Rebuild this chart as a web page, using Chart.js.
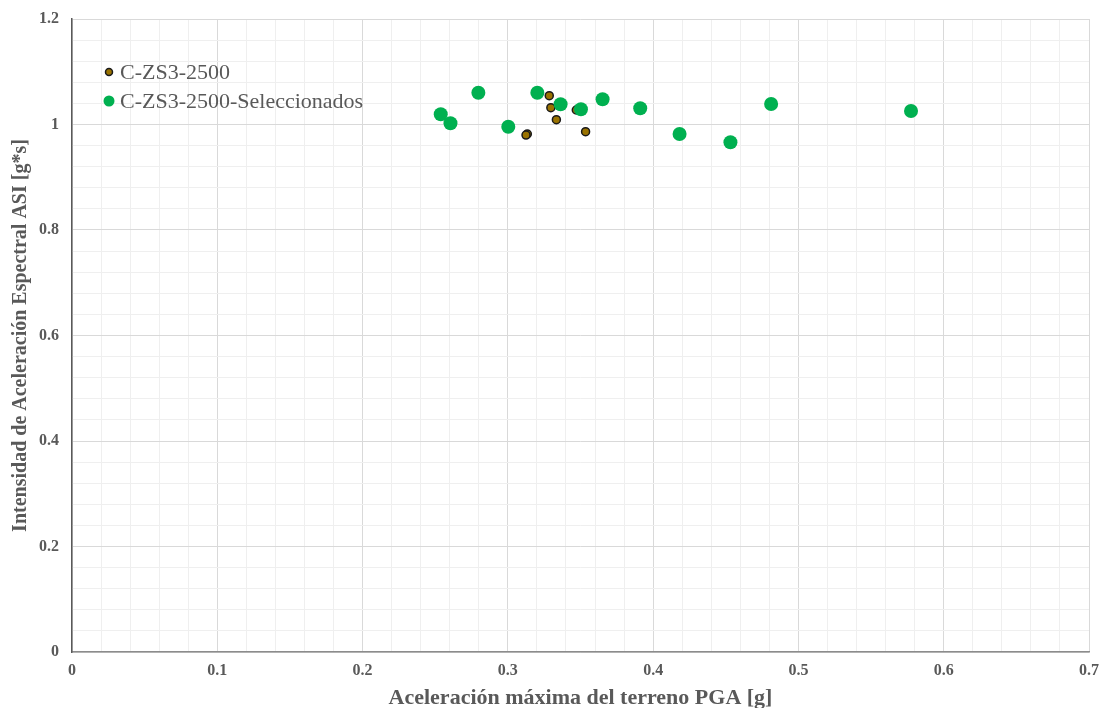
<!DOCTYPE html>
<html>
<head>
<meta charset="utf-8">
<script src="https://cdn.jsdelivr.net/npm/chart.js@4.4.1/dist/chart.umd.min.js"></script>
<style>
  html, body { margin: 0; padding: 0; background: #fff; }
  #wrap { width: 1101px; height: 708px; position: relative; }
</style>
</head>
<body>
<div id="wrap"><canvas id="asiChart"></canvas></div>
<script>
// PGA [g] vs ASI [g*s]
var allPga = [0.3285, 0.3296, 0.3334, 0.3134, 0.3125, 0.3471, 0.3535];
var allAsi = [1.0546, 1.0318, 1.0091, 0.9820, 0.9800, 1.0275, 0.9863];

var selPga = [0.2538, 0.2605, 0.2797, 0.3003, 0.3203, 0.3363, 0.3503, 0.3652, 0.3911, 0.4182, 0.4532, 0.4812, 0.5775];
var selAsi = [1.0194, 1.0023, 1.0603, 0.9958, 1.0603, 1.0383, 1.0288, 1.0478, 1.0307, 0.9820, 0.9663, 1.0389, 1.0256];

var seriesNames = ['C-ZS3-2500', 'C-ZS3-2500-Seleccionados'];

function toPoints(xs, ys) {
  return xs.map(function(x, i) { return { x: x, y: ys[i] }; });
}

var textGrey = '#595959';
var serif = "'Liberation Serif', 'Times New Roman', serif";

// legend drawn inside the plot area, top-left
var insideLegend = {
  id: 'insideLegend',
  afterDraw: function(chart) {
    var ctx = chart.ctx;
    var a = chart.chartArea;
    var rows = [a.top + 53, a.top + 82];
    ctx.save();
    ctx.font = '22px ' + serif;
    ctx.textBaseline = 'middle';
    chart.data.datasets.forEach(function(ds, i) {
      var y = rows[i];
      var x = a.left + 37;
      ctx.beginPath();
      ctx.arc(x, y, i === 0 ? 3.5 : 5.5, 0, Math.PI * 2);
      ctx.fillStyle = ds.backgroundColor;
      ctx.fill();
      if (i === 0) {
        ctx.lineWidth = 1.5;
        ctx.strokeStyle = ds.borderColor;
        ctx.stroke();
      }
      ctx.fillStyle = textGrey;
      ctx.textAlign = 'left';
      ctx.fillText(seriesNames[i], x + 11, y + 1);
    });
    ctx.restore();
  }
};

function isMajor(v, step) {
  return Math.abs(Math.round(v * 100) % step) === 0;
}

new Chart(document.getElementById('asiChart').getContext('2d'), {
  type: 'scatter',
  data: {
    datasets: [
      {
        label: seriesNames[0],
        data: toPoints(allPga, allAsi),
        backgroundColor: '#9a7300',
        borderColor: '#1a1a1a',
        borderWidth: 1.5,
        pointRadius: 4,
        order: 2
      },
      {
        label: seriesNames[1],
        data: toPoints(selPga, selAsi),
        backgroundColor: '#00b050',
        borderColor: '#00b050',
        borderWidth: 0,
        pointRadius: 7,
        order: 1
      }
    ]
  },
  options: {
    responsive: true,
    maintainAspectRatio: false,
    animation: false,
    layout: { padding: { top: 19, right: 12, left: 0, bottom: 0 } },
    plugins: {
      legend: { display: false },
      tooltip: { enabled: false }
    },
    scales: {
      x: {
        type: 'linear',
        min: 0,
        max: 0.7,
        afterFit: function(s) { s.height = 56; s.paddingLeft = 0; s.paddingRight = 0; },
        border: { color: '#8c8c8c', width: 1.5 },
        grid: {
          drawTicks: false,
          color: function(c) { return isMajor(c.tick.value, 10) ? '#d9d9d9' : '#efefef'; }
        },
        ticks: {
          stepSize: 0.02,
          autoSkip: false,
          maxRotation: 0,
          padding: 9,
          color: textGrey,
          font: { family: serif, size: 16, weight: 'bold' },
          callback: function(v) {
            return isMajor(v, 10) ? String(Math.round(v * 10) / 10) : '';
          }
        },
        title: {
          display: true,
          text: 'Aceleración máxima del terreno PGA [g]',
          color: textGrey,
          font: { family: serif, size: 22, weight: 'bold' },
          padding: { top: 0, bottom: -4 }
        }
      },
      y: {
        type: 'linear',
        min: 0,
        max: 1.2,
        afterFit: function(s) { s.width = 72; s.paddingTop = 0; s.paddingBottom = 0; },
        border: { color: '#595959', width: 1.5 },
        grid: {
          drawTicks: false,
          color: function(c) { return isMajor(c.tick.value, 20) ? '#d9d9d9' : '#efefef'; }
        },
        ticks: {
          stepSize: 0.04,
          autoSkip: false,
          padding: 13,
          color: textGrey,
          font: { family: serif, size: 16, weight: 'bold' },
          callback: function(v) {
            return isMajor(v, 20) ? String(Math.round(v * 10) / 10) : '';
          }
        },
        title: {
          display: true,
          text: 'Intensidad de Aceleración Espectral ASI [g*s]',
          color: textGrey,
          font: { family: serif, size: 20, weight: 'bold' },
          padding: { top: 9, bottom: 0 }
        }
      }
    }
  },
  plugins: [insideLegend]
});
</script>
</body>
</html>
